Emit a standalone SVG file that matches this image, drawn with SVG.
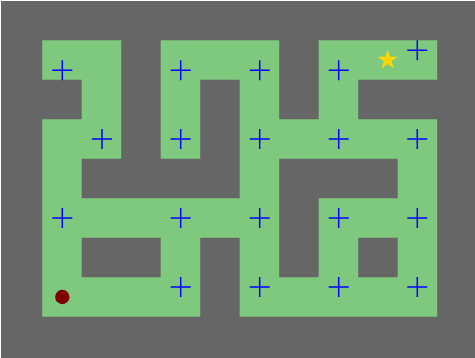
<svg xmlns="http://www.w3.org/2000/svg" xmlns:xlink="http://www.w3.org/1999/xlink" width="475" height="358" viewBox="0 0 475 358">
  <style>
    .wall { fill: #666666; }
    .floor { fill: #7fc97f; }
    .plus { stroke: #0000ff; stroke-width: 1.5; fill: none; }
  </style>
  <defs>
    <path id="plus" d="M-10,0H10M0,-10V10"/>
  </defs>
  <rect x="0" y="0" width="475" height="358" fill="#ffffff"/>
  <g id="maze">
    <rect class="wall" x="1" y="1" width="474" height="357"/>
    <path class="floor" d="
      M42.2,40.3H121.2V79.8H42.2Z
      M160.7,40.3H279.2V79.8H160.7Z
      M318.7,40.3H437.2V79.8H318.7Z
      M81.7,79.8H121.2V119.3H81.7Z
      M160.7,79.8H200.2V119.3H160.7Z
      M239.7,79.8H279.2V119.3H239.7Z
      M318.7,79.8H358.2V119.3H318.7Z
      M42.2,119.3H121.2V158.8H42.2Z
      M160.7,119.3H200.2V158.8H160.7Z
      M239.7,119.3H437.2V158.8H239.7Z
      M42.2,158.8H81.7V198.3H42.2Z
      M239.7,158.8H279.2V198.3H239.7Z
      M397.7,158.8H437.2V198.3H397.7Z
      M42.2,198.3H279.2V237.8H42.2Z
      M318.7,198.3H437.2V237.8H318.7Z
      M42.2,237.8H81.7V277.3H42.2Z
      M160.7,237.8H200.2V277.3H160.7Z
      M239.7,237.8H279.2V277.3H239.7Z
      M318.7,237.8H358.2V277.3H318.7Z
      M397.7,237.8H437.2V277.3H397.7Z
      M42.2,277.3H200.2V316.8H42.2Z
      M239.7,277.3H437.2V316.8H239.7Z"/>
  </g>
  <g id="waypoints" class="plus">
    <use xlink:href="#plus" x="62.3" y="70.3"/>
    <use xlink:href="#plus" x="180.7" y="70.3"/>
    <use xlink:href="#plus" x="259.7" y="70.3"/>
    <use xlink:href="#plus" x="338.7" y="70.3"/>
    <use xlink:href="#plus" x="417.3" y="50.3"/>
    <use xlink:href="#plus" x="102" y="139"/>
    <use xlink:href="#plus" x="180.7" y="139"/>
    <use xlink:href="#plus" x="259.7" y="139"/>
    <use xlink:href="#plus" x="338.7" y="139"/>
    <use xlink:href="#plus" x="417.3" y="139"/>
    <use xlink:href="#plus" x="62.3" y="218"/>
    <use xlink:href="#plus" x="180.7" y="218"/>
    <use xlink:href="#plus" x="259.7" y="218"/>
    <use xlink:href="#plus" x="338.7" y="218"/>
    <use xlink:href="#plus" x="417.3" y="218"/>
    <use xlink:href="#plus" x="180.7" y="287"/>
    <use xlink:href="#plus" x="259.7" y="287"/>
    <use xlink:href="#plus" x="338.7" y="287"/>
    <use xlink:href="#plus" x="417.3" y="287"/>
  </g>
  <g id="start">
    <circle cx="62.3" cy="297" r="7.2" fill="#800000"/>
  </g>
  <g id="goal">
    <polygon transform="translate(387.7,60)" fill="#ffd700" points="0,-10.5 2.358,-3.245 9.986,-3.245 3.815,1.239 6.172,8.495 0,4.011 -6.172,8.495 -3.815,1.239 -9.986,-3.245 -2.358,-3.245"/>
  </g>
</svg>
